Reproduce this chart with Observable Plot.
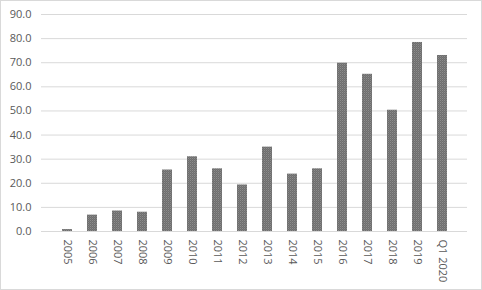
<!DOCTYPE html>
<html><head><meta charset="utf-8">
<script src="https://cdn.jsdelivr.net/npm/d3@7"></script>
<script src="https://cdn.jsdelivr.net/npm/@observablehq/plot@0.6"></script>
<style>
html,body{margin:0;padding:0;background:#fff;}
#chart{width:482px;height:290px;position:relative;}
#frame{position:absolute;left:0;top:0;width:480px;height:288px;border:1px solid #d9d9d9;pointer-events:none;}
</style></head>
<body><div id="chart"><div id="frame"></div></div>
<script>
const categories = ["2005","2006","2007","2008","2009","2010","2011","2012","2013","2014","2015","2016","2017","2018","2019","Q1 2020"];
const values = [0.8, 6.8, 8.5, 8.0, 25.5, 31.0, 26.0, 19.3, 35.0, 23.8, 26.0, 69.8, 65.2, 50.3, 78.4, 73.0];
const yTicks = [0,10,20,30,40,50,60,70,80,90];

const data = categories.map((c,i)=>({cat:c, v:values[i]}));

const plot = Plot.plot({
  width: 482, height: 290,
  marginLeft: 41, marginRight: 15, marginTop: 14, marginBottom: 59,
  style: {fontFamily: "'Open Sans', 'Liberation Sans', sans-serif", fontSize: "11px", color: "#595959", background: "transparent"},
  x: {domain: categories, padding: 0.62, label: null, tickSize: 0, tickRotate: 90, tickPadding: 8},
  y: {domain: [0, 90], ticks: yTicks, label: null, tickSize: 0, tickPadding: 10, tickFormat: d => d.toFixed(1)},
  marks: [
    Plot.gridY(yTicks, {stroke: "#d9d9d9", strokeOpacity: 1, strokeWidth: 1}),
    Plot.barY(data, {x: "cat", y: "v", fill: "url(#hatch)"})
  ]
});
const svg = d3.select(plot);
const defs = svg.insert("defs", ":first-child");
const pat = defs.append("pattern").attr("id","hatch").attr("patternUnits","userSpaceOnUse").attr("width",2).attr("height",2);
pat.append("rect").attr("width",2).attr("height",2).attr("fill","#6e6e6e");
pat.append("rect").attr("x",0).attr("y",0).attr("width",1).attr("height",1).attr("fill","#8c8c8c");
pat.append("rect").attr("x",1).attr("y",1).attr("width",1).attr("height",1).attr("fill","#7a7a7a");
document.getElementById("chart").insertBefore(plot, document.getElementById("frame"));
</script>
</body></html>
